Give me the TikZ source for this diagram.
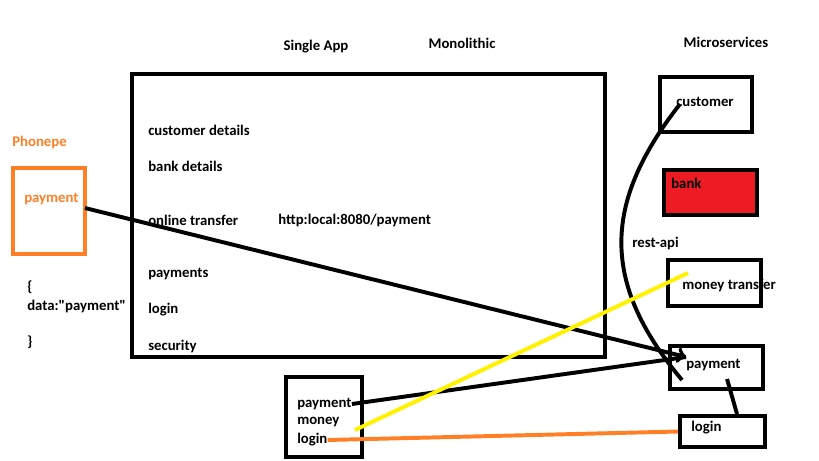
\documentclass[tikz,border=0pt]{standalone}
\usepackage{fontspec}
\setmainfont{Carlito}
\usepackage{tikz}
\definecolor{paintorange}{HTML}{FF7F27}
\definecolor{paintyellow}{HTML}{FFF200}
\definecolor{paintred}{HTML}{ED1C24}
\begin{document}
\begin{tikzpicture}[x=0.025cm, y=-0.025cm,
    every node/.style={font=\bfseries\fontsize{10.5}{12}\selectfont, inner sep=0pt},
    txt/.style={anchor=west},
    box/.style={draw, line width=2.8pt, minimum width=#1},
    pen/.style={line width=2.8pt}]
  \useasboundingbox (0,0) rectangle (819,460);

  % titles
  \node (single) at (316,47) {Single App};
  \node (mono) at (462,43) {Monolithic};
  \node (micro) at (726,42) {Microservices};

  % monolithic app
  \node[box=11.825cm, minimum height=7.075cm] (app) at (368.5,215.5) {};
  \node[txt] (cust) at (148,130) {customer details};
  \node[txt] (bank) at (148,166) {bank details};
  \node[txt] (online) at (148,220) {online transfer};
  \node[txt] (url) at (278,220) {http:local:8080/payment};
  \node[txt] (pays) at (148,274) {payments};
  \node[txt] (log) at (148,310) {login};
  \node[txt] (sec) at (148,346) {security};

  % phonepe client
  \node[txt, text=paintorange] (phonepe) at (12,142) {Phonepe};
  \node[box=1.8cm, minimum height=2.15cm, draw=paintorange] (client) at (49,211) {};
  \node[txt, text=paintorange] (cpay) at (24,199) {payment};
  \node[txt] (open) at (27,287) {\{};
  \node[txt] (data) at (27,306) {data:\textquotedbl payment\textquotedbl};
  \node[txt] (close) at (27,342) {\}};

  % microservices
  \node[box=2.3cm, minimum height=1.375cm] (mcust) at (706,104.5) {};
  \node[txt] at (676,102) {customer};
  \node[box=2.325cm, minimum height=1.125cm, fill=paintred] (mbank) at (710.5,192.5) {};
  \node[txt] at (671,183) {bank};
  \node[box=2.325cm, minimum height=1.15cm] (mmoney) at (714.5,283) {};
  \node[txt] at (682,286) {money transfer};
  \node[box=2.325cm, minimum height=1.075cm] (mpay) at (716.5,367.5) {};
  \node[txt] at (686,365) {payment};
  \node[box=2.125cm, minimum height=0.775cm] (mlogin) at (722.5,431.5) {};
  \node[txt] at (691,428) {login};
  \node[txt] (rest) at (632,243) {rest-api};

  % gateway box
  \node[box=1.9cm, minimum height=2cm] (gate) at (324,417) {};
  \node[txt] (gpay) at (297,404) {payment};
  \node[txt] (gmoney) at (297,422) {money};
  \node[txt] (glogin) at (297,440) {login};

  \coordinate (cpayend) at (85,208);
  \coordinate (paytip) at (686,357);
  \coordinate (custdot) at (680,104);
  \coordinate (payend) at (682,380);
  \coordinate (moneystart) at (355,430);
  \coordinate (moneyend) at (688,273);
  \coordinate (paydot) at (727,379);
  \coordinate (loginend) at (737,414);

  \draw[pen, ->] (cpayend) -- (paytip);
  \draw[pen] (gpay.east) -- (paytip);
  \draw[pen] (custdot) .. controls (605,200) and (598,280) .. (payend);
  \draw[pen] (paydot) -- (loginend);
  \draw[pen, paintyellow] (moneystart) -- (moneyend);
  \draw[pen, paintorange] (glogin.east) -- (mlogin.west);
\end{tikzpicture}
\end{document}
